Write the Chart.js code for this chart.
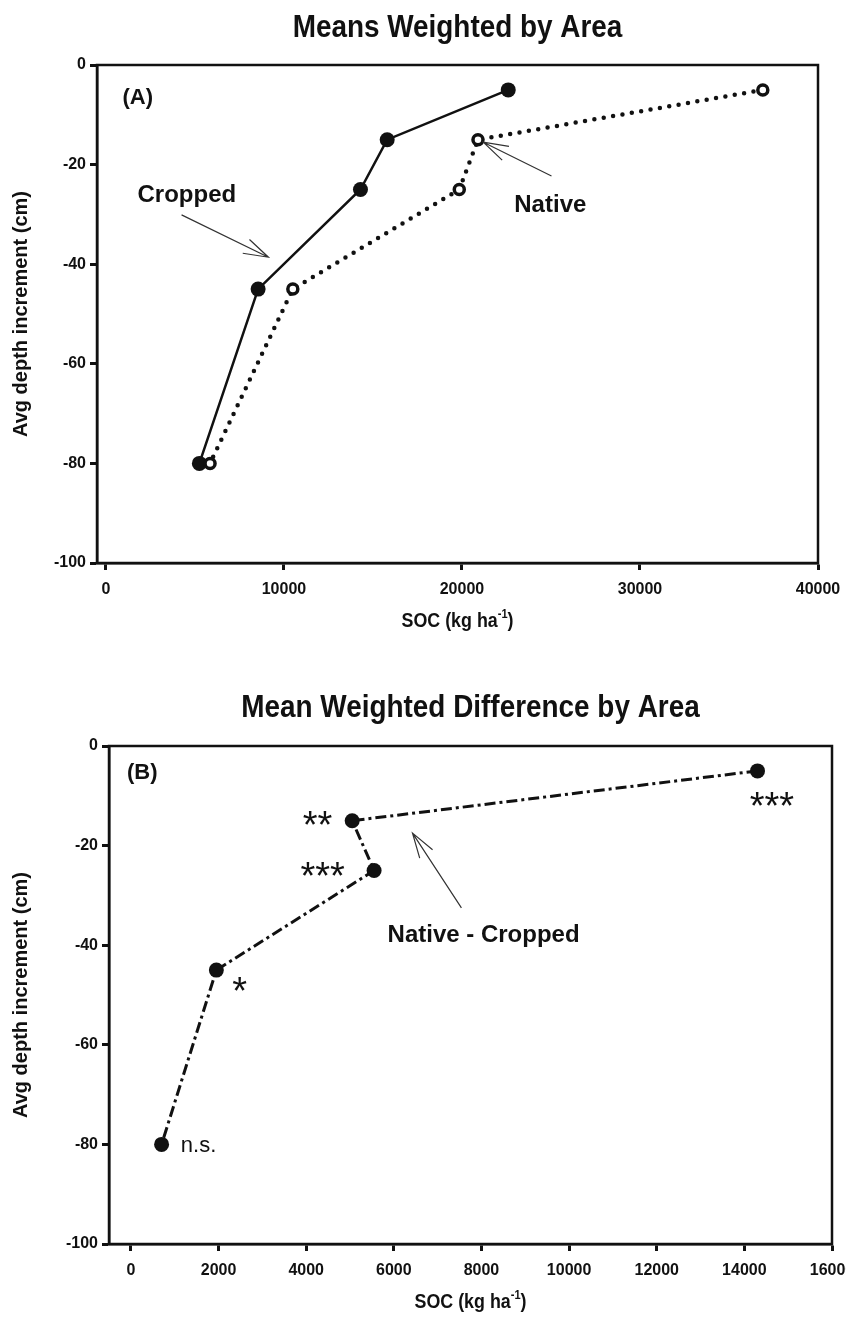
<!DOCTYPE html>
<html>
<head>
<meta charset="utf-8">
<script src="https://cdn.jsdelivr.net/npm/chart.js@4/dist/chart.umd.min.js"></script>
<style>
  html, body { margin: 0; padding: 0; background: #fff; }
  .box { position: absolute; left: 0; width: 846px; }
  #boxA { top: 0; height: 660px; }
  #boxB { top: 660px; height: 658px; }
</style>
</head>
<body>
<div class="box" id="boxA"><canvas id="chartA"></canvas></div>
<div class="box" id="boxB"><canvas id="chartB"></canvas></div>
<script>
// depth increments (cm), same for both panels
const depths = [-5, -15, -25, -45, -80];

// panel A - SOC (kg ha-1)
const socCropped = [22600, 15800, 14300, 8550, 5250];
const socNative = [36900, 20900, 19850, 10500, 5850];

// panel B - native minus cropped
const socDiff = [14300, 5050, 5550, 1950, 700];
const sigLabels = ['***', '**', '***', '*', 'n.s.'];

// tick labels
const xTicksA = [0, 10000, 20000, 30000, 40000];
const xTicksB = [0, 2000, 4000, 6000, 8000, 10000, 12000, 14000, 16000];
const yTicks = [0, -20, -40, -60, -80, -100];

const INK = '#111';
const SANS = '"Liberation Sans", Arial, sans-serif';

function pts(xs) {
    return depths.map((d, i) => ({ x: xs[i], y: d }));
}

// text squeezed sideways, the figure uses a narrow face
function narrowText(ctx, text, x, y, font, k) {
    ctx.save();
    ctx.font = font;
    ctx.translate(x, y);
    ctx.scale(k, 1);
    ctx.fillText(text, 0, 0);
    ctx.restore();
}

// frame, title, x-axis title, notes and arrows
const decor = {
    id: 'decor',
    afterDraw(chart, args, o) {
        const { ctx, chartArea: a } = chart;
        const sx = chart.scales.x, sy = chart.scales.y;
        ctx.save();
        ctx.strokeStyle = INK;
        ctx.lineWidth = 2.5;
        ctx.strokeRect(a.left, a.top, a.right - a.left, a.bottom - a.top);

        ctx.fillStyle = INK;
        ctx.textAlign = 'center';
        ctx.textBaseline = 'middle';
        narrowText(ctx, o.title, (a.left + a.right) / 2, o.titleY, 'bold 31px ' + SANS, 0.9);

        // SOC (kg ha^-1)
        const k = 0.85;
        const fMain = 'bold 21px ' + SANS, fSup = 'bold 13px ' + SANS;
        const main = 'SOC (kg ha', close = ')';
        ctx.font = fMain;
        const wMain = ctx.measureText(main).width * k;
        const wClose = ctx.measureText(close).width * k;
        ctx.font = fSup;
        const wSup = ctx.measureText('-1').width * k;
        let tx = (a.left + a.right) / 2 - (wMain + wSup + wClose) / 2;
        const ty = a.bottom + o.xTitleOffset;
        ctx.textAlign = 'left';
        ctx.textBaseline = 'alphabetic';
        narrowText(ctx, main, tx, ty, fMain, k);
        narrowText(ctx, '-1', tx + wMain, ty - 9, fSup, k);
        narrowText(ctx, close, tx + wMain + wSup, ty, fMain, k);

        o.notes.forEach(n => {
            ctx.font = n.font;
            ctx.textAlign = n.align || 'left';
            ctx.textBaseline = 'middle';
            const px = sx.getPixelForValue(n.x);
            let py = sy.getPixelForValue(n.y);
            if (n.star) {
                ctx.textBaseline = 'alphabetic';
                py += n.size * 0.5;
            }
            ctx.fillText(n.text, px, py);
        });

        ctx.strokeStyle = '#333';
        ctx.lineWidth = 1.2;
        o.arrows.forEach(ar => {
            const x0 = sx.getPixelForValue(ar[0]), y0 = sy.getPixelForValue(ar[1]);
            const x1 = sx.getPixelForValue(ar[2]), y1 = sy.getPixelForValue(ar[3]);
            const ang = Math.atan2(y1 - y0, x1 - x0);
            const len = 26, spread = 0.3;
            ctx.beginPath();
            ctx.moveTo(x0, y0);
            ctx.lineTo(x1, y1);
            ctx.moveTo(x1 - len * Math.cos(ang - spread), y1 - len * Math.sin(ang - spread));
            ctx.lineTo(x1, y1);
            ctx.lineTo(x1 - len * Math.cos(ang + spread), y1 - len * Math.sin(ang + spread));
            ctx.stroke();
        });
        ctx.restore();
    }
};

function makeOptions(cfg) {
    return {
        responsive: true,
        maintainAspectRatio: false,
        animation: false,
        layout: { padding: { top: cfg.top, right: cfg.right, left: 0, bottom: 0 } },
        plugins: {
            legend: { display: false },
            tooltip: { enabled: false },
            decor: cfg.decor
        },
        scales: {
            x: {
                type: 'linear',
                min: cfg.xMin,
                max: cfg.xMax,
                afterBuildTicks: s => { s.ticks = cfg.xTicks.map(v => ({ value: v })); },
                afterFit: s => { s.height = cfg.xHeight; s.paddingLeft = 0; s.paddingRight = 0; },
                ticks: {
                    color: INK,
                    padding: 10,
                    maxRotation: 0,
                    autoSkip: false,
                    callback: v => String(v),
                    font: { family: SANS, size: 16, weight: 'bold' }
                },
                grid: {
                    drawOnChartArea: false,
                    drawTicks: true,
                    tickLength: 7,
                    tickWidth: 3,
                    tickColor: INK
                },
                border: { display: true, color: INK, width: 2.5 }
            },
            y: {
                type: 'linear',
                min: -100,
                max: 0,
                afterBuildTicks: s => { s.ticks = yTicks.map(v => ({ value: v })); },
                afterFit: s => { s.width = cfg.yWidth; s.paddingTop = 0; s.paddingBottom = 0; },
                ticks: {
                    color: INK,
                    padding: 4,
                    autoSkip: false,
                    callback: v => String(v),
                    font: { family: SANS, size: 16, weight: 'bold' }
                },
                grid: {
                    drawOnChartArea: false,
                    drawTicks: true,
                    tickLength: 7,
                    tickWidth: 3,
                    tickColor: INK
                },
                border: { display: true, color: INK, width: 2.5 },
                title: {
                    display: true,
                    text: 'Avg depth increment (cm)',
                    color: INK,
                    padding: { top: 9 },
                    font: { family: SANS, size: 20, weight: 'bold' }
                }
            }
        }
    };
}

new Chart(document.getElementById('chartA'), {
    type: 'scatter',
    data: {
        datasets: [
            {
                label: 'Native',
                data: pts(socNative),
                showLine: true,
                order: 0,
                borderColor: INK,
                borderWidth: 4.5,
                borderDash: [0, 9.5],
                borderCapStyle: 'round',
                pointRadius: 5,
                pointBorderWidth: 3.5,
                pointBorderColor: INK,
                pointBackgroundColor: '#fff'
            },
            {
                label: 'Cropped',
                data: pts(socCropped),
                showLine: true,
                order: 1,
                borderColor: INK,
                borderWidth: 2.5,
                pointRadius: 7.5,
                pointBorderWidth: 0,
                pointBackgroundColor: INK
            }
        ]
    },
    options: makeOptions({
        top: 65, right: 28, xHeight: 97, yWidth: 97,
        xMin: -500, xMax: 40000, xTicks: xTicksA,
        decor: {
            title: 'Means Weighted by Area',
            titleY: 28,
            xTitleOffset: 64,
            notes: [
                { text: '(A)', x: 930, y: -6.6, font: 'bold 22px ' + SANS },
                { text: 'Cropped', x: 1775, y: -26.1, font: 'bold 24px ' + SANS },
                { text: 'Native', x: 22940, y: -28.1, font: 'bold 24px ' + SANS }
            ],
            arrows: [
                [4250, -30.1, 9130, -38.6],
                [25030, -22.3, 21200, -15.5]
            ]
        }
    }),
    plugins: [decor]
});

new Chart(document.getElementById('chartB'), {
    type: 'scatter',
    data: {
        datasets: [
            {
                label: 'Native - Cropped',
                data: pts(socDiff),
                showLine: true,
                borderColor: INK,
                borderWidth: 3,
                borderDash: [11, 4, 3, 4],
                pointRadius: 7.5,
                pointBorderWidth: 0,
                pointBackgroundColor: INK
            }
        ]
    },
    options: makeOptions({
        top: 86, right: 14, xHeight: 74, yWidth: 109,
        xMin: -500, xMax: 16000, xTicks: xTicksB,
        decor: {
            title: 'Mean Weighted Difference by Area',
            titleY: 48,
            xTitleOffset: 64,
            notes: [
                { text: '(B)', x: -90, y: -5.4, font: 'bold 22px ' + SANS },
                { text: sigLabels[0], x: 14630, y: -10.8, font: '38px ' + SANS, align: 'center', star: true, size: 38 },
                { text: sigLabels[1], x: 4260, y: -14.6, font: '38px ' + SANS, align: 'center', star: true, size: 38 },
                { text: sigLabels[2], x: 4375, y: -24.9, font: '38px ' + SANS, align: 'center', star: true, size: 38 },
                { text: sigLabels[3], x: 2484, y: -47.9, font: '38px ' + SANS, align: 'center', star: true, size: 38 },
                { text: sigLabels[4], x: 1140, y: -80.4, font: '22px ' + SANS },
                { text: 'Native - Cropped', x: 5857, y: -38.1, font: 'bold 24px ' + SANS }
            ],
            arrows: [
                [7543, -32.5, 6427, -17.5]
            ]
        }
    }),
    plugins: [decor]
});
</script>
</body>
</html>
